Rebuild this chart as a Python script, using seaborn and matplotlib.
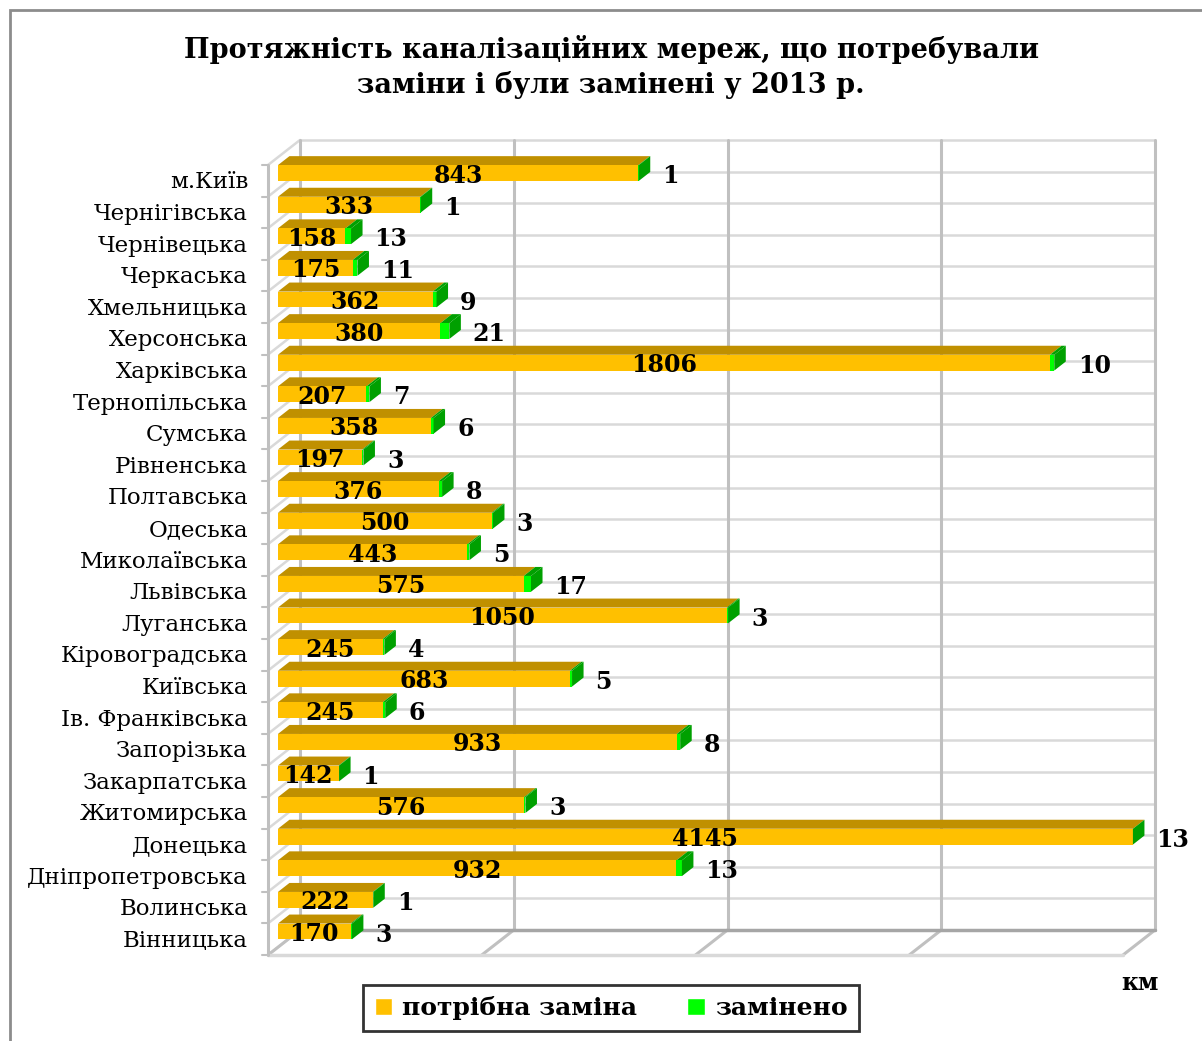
import matplotlib
matplotlib.use("Agg")
import numpy as np
import matplotlib.pyplot as plt
import seaborn as sns
from matplotlib.patches import Polygon, Rectangle, Patch

# -------------------------------
# Data
# -------------------------------
regions = ["м.Київ", "Чернігівська", "Чернівецька", "Черкаська", "Хмельницька",
           "Херсонська", "Харківська", "Тернопільська", "Сумська", "Рівненська",
           "Полтавська", "Одеська", "Миколаївська", "Львівська", "Луганська",
           "Кіровоградська", "Київська", "Ів. Франківська", "Запорізька",
           "Закарпатська", "Житомирська", "Донецька", "Дніпропетровська",
           "Волинська", "Вінницька"]
need = [843, 333, 158, 175, 362, 380, 1806, 207, 358, 197, 376, 500, 443, 575,
        1050, 245, 683, 245, 933, 142, 576, 4145, 932, 222, 170]
replaced = [1, 1, 13, 11, 9, 21, 10, 7, 6, 3, 8, 3, 5, 17, 3, 4, 5, 6, 8, 1, 3,
            13, 13, 1, 3]

title = "Протяжність каналізаційних мереж, що потребували\nзаміни і були замінені у 2013 р."
legend_labels = ["потрібна заміна", "замінено"]
x_grid = [0, 500, 1000, 1500, 2000]
XMAX = 2000

# colours
ORANGE = "#FFC000"
ORANGE_TOP = "#C09000"
GREEN = "#00FF00"
GREEN_DARK = "#00A000"
GRID = "#c0c0c0"
GRID_LIGHT = "#d9d9d9"

# -------------------------------
# Figure geometry (pixels)
# -------------------------------
W, H = 1202, 1041
X0_PX, TOP_PX = 300, 140          # back wall origin
PX_KM = 855 / XMAX
PX_CAT = 790 / len(regions)

sns.set_style("white")
plt.rcParams["font.family"] = ["DejaVu Serif"]
plt.rcParams["text.color"] = "black"

fig = plt.figure(figsize=(W / 100, H / 100), dpi=100)
ax = fig.add_axes([0, 0, 1, 1])

n = len(regions)
need_a = np.array(need, dtype=float)
total_a = need_a + np.array(replaced, dtype=float)

# front faces via seaborn (green = total underneath, orange = need on top)
sns.barplot(x=total_a, y=regions, order=regions, orient="h", color=GREEN,
            saturation=1, width=0.5, linewidth=0, ax=ax)
sns.barplot(x=need_a, y=regions, order=regions, orient="h", color=ORANGE,
            saturation=1, width=0.5, linewidth=0, ax=ax)

ax.set_xlim(-X0_PX / PX_KM, (W - X0_PX) / PX_KM)
ax.set_ylim((H - TOP_PX) / PX_CAT - 0.5, -TOP_PX / PX_CAT - 0.5)
ax.axis("off")

# depth vector (front relative to back wall) in data units
DX = -32 / PX_KM
DY = 25 / PX_CAT
f_front, f_back = 0.69, 0.33
fx, fy = f_front * DX, f_front * DY
bx, by = f_back * DX, f_back * DY

clip = Rectangle((fx - 200, -10), XMAX + 200, 100, transform=ax.transData)
for p in ax.patches:
    p.set_x(p.get_x() + fx)
    p.set_y(p.get_y() + fy)
    p.set_clip_path(clip)
    p.set_zorder(5)

# -------------------------------
# Walls and grid
# -------------------------------
ytop, ybot = -0.5, n - 0.5
for b in np.arange(ytop, ybot + 0.01, 1.0):
    ax.plot([0, XMAX], [b, b], color=GRID_LIGHT, lw=1.8, zorder=1)
    ax.plot([0, DX], [b, b + DY], color=GRID_LIGHT, lw=1.8, zorder=1)
    ax.plot([DX - 6 / PX_KM, DX], [b + DY, b + DY], color=GRID, lw=1.5, zorder=1)
for g in x_grid:
    ax.plot([g, g], [ytop, ybot], color=GRID, lw=2.2, zorder=2)
    ax.plot([g, g + DX], [ybot, ybot + DY], color=GRID, lw=2.2, zorder=2)
ax.plot([0, XMAX], [ybot, ybot], color="#a6a6a6", lw=2.5, zorder=2)
ax.plot([DX, XMAX + DX], [ybot + DY, ybot + DY], color=GRID_LIGHT, lw=2.5, zorder=2)
ax.plot([DX, DX], [ytop + DY, ybot + DY], color=GRID, lw=2.2, zorder=2)

# -------------------------------
# 3D faces + labels
# -------------------------------
for k in range(n):
    nc = min(need_a[k], XMAX)
    tc = min(total_a[k], XMAX)
    yt = k - 0.25
    yb = k + 0.25
    ax.add_patch(Polygon([(fx, yt + fy), (nc + fx, yt + fy), (nc + bx, yt + by), (bx, yt + by)],
                         closed=True, facecolor=ORANGE_TOP, edgecolor="none", zorder=4))
    if tc > nc:
        ax.add_patch(Polygon([(nc + fx, yt + fy), (tc + fx, yt + fy), (tc + bx, yt + by), (nc + bx, yt + by)],
                             closed=True, facecolor=GREEN_DARK, edgecolor="none", zorder=4))
    ax.add_patch(Polygon([(tc + fx, yt + fy), (tc + fx, yb + fy), (tc + bx, yb + by), (tc + bx, yt + by)],
                         closed=True, facecolor=GREEN_DARK, edgecolor="none", zorder=6))
    ax.text(fx + nc / 2, k + fy + 0.08, f"{need[k]}", ha="center", va="center",
            fontsize=17, fontweight="bold", color="black", zorder=8)
    ax.text(tc + bx + 12 / PX_KM, k + fy + 0.1, f"{replaced[k]}", ha="left", va="center",
            fontsize=17, fontweight="bold", color="black", zorder=8)
    ax.text(DX - 20 / PX_KM, k + DY + 0.05, regions[k], ha="right", va="center",
            fontsize=16.5, color="black")

# units label
fig.text(1140 / W, 1 - 983 / H, "км", ha="center", va="center",
         fontsize=17, fontweight="bold", color="black")

# title
fig.text(611 / W, 1 - 67 / H, title, ha="center", va="center",
         fontsize=19.5, fontweight="bold", linespacing=1.3, color="black")

# legend
leg = ax.legend(handles=[Patch(facecolor=ORANGE), Patch(facecolor=GREEN)],
                labels=legend_labels, ncol=2, loc="center",
                bbox_to_anchor=(611 / W, 1 - 1008 / H), bbox_transform=fig.transFigure,
                frameon=True, fancybox=False,
                handlelength=0.7, handleheight=0.7, handletextpad=0.4,
                columnspacing=2.0, borderpad=0.45, borderaxespad=0,
                prop={"family": "DejaVu Serif", "weight": "bold", "size": 18})
frame = leg.get_frame()
frame.set_linewidth(2)
frame.set_edgecolor("black")
for t in leg.get_texts():
    t.set_color("black")

# outer border
fig.patches.append(Rectangle((10 / W, -0.05), 1.1, 1 - 10 / H + 0.05,
                             transform=fig.transFigure, fill=False,
                             edgecolor="#8c8c8c", lw=2))

fig.savefig("out.png", dpi=100)
